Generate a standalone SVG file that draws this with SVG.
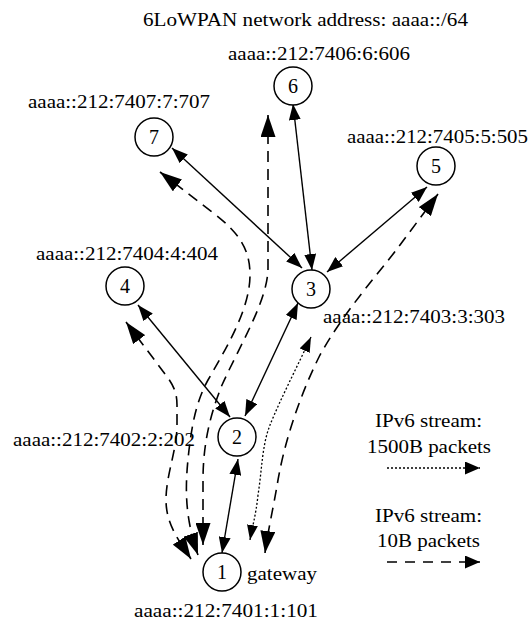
<svg xmlns="http://www.w3.org/2000/svg" width="531" height="623" viewBox="0 0 531 623">
  <style>
    text { font-family: "Liberation Serif", "Times New Roman", serif; fill: #000; }
    .lbl { font-size: 19px; text-anchor: middle; }
    .num { font-size: 20px; text-anchor: middle; }
    .node circle { fill: #fff; stroke: #000; stroke-width: 1.5; }
    .link { fill: none; stroke: #000; stroke-width: 1.4; marker-start: url(#hs); marker-end: url(#hs); }
    .s10 { fill: none; stroke: #000; stroke-width: 1.6; stroke-dasharray: 11 7; marker-start: url(#hd); marker-end: url(#hd); }
    .s1500 { fill: none; stroke: #000; stroke-width: 1.3; stroke-dasharray: 2 2; marker-start: url(#ht); marker-end: url(#ht); }
    .key10 { fill: none; stroke: #000; stroke-width: 1.6; stroke-dasharray: 10 8; marker-end: url(#hk); }
    .key1500 { fill: none; stroke: #000; stroke-width: 1.3; stroke-dasharray: 2 2; marker-end: url(#hk); }
  </style>
  <defs>
    <!-- solid radio links -->
    <marker id="hs" markerUnits="userSpaceOnUse" markerWidth="16" markerHeight="12" refX="16" refY="6" orient="auto-start-reverse">
      <path d="M0,0 L16,6 L0,12 z" fill="#000"/>
    </marker>
    <!-- 10B packet streams -->
    <marker id="hd" markerUnits="userSpaceOnUse" markerWidth="22" markerHeight="15" refX="22" refY="7.5" orient="auto-start-reverse">
      <path d="M0,0 L22,7.5 L0,15 z" fill="#000"/>
    </marker>
    <!-- 1500B packet stream -->
    <marker id="ht" markerUnits="userSpaceOnUse" markerWidth="15" markerHeight="11" refX="15" refY="5.5" orient="auto-start-reverse">
      <path d="M0,0 L15,5.5 L0,11 z" fill="#000"/>
    </marker>
    <!-- legend keys -->
    <marker id="hk" markerUnits="userSpaceOnUse" markerWidth="15" markerHeight="13" refX="15" refY="6.5" orient="auto">
      <path d="M0,0 L15,6.5 L0,13 z" fill="#000"/>
    </marker>
  </defs>

  <text class="lbl" x="305.5" y="26" textLength="325" lengthAdjust="spacingAndGlyphs">6LoWPAN network address: aaaa::/64</text>

  <g id="connectors">
    <!-- radio links -->
    <line class="link" x1="293" y1="104" x2="312" y2="270"/>
    <line class="link" x1="172" y1="148" x2="302" y2="268"/>
    <line class="link" x1="427" y1="187" x2="327" y2="272"/>
    <line class="link" x1="138" y1="305" x2="230" y2="417"/>
    <line class="link" x1="298" y1="303" x2="245" y2="416"/>
    <line class="link" x1="238" y1="459" x2="222" y2="553"/>
    <!-- 10B streams between the gateway and nodes 6, 7, 4, 5 -->
    <path class="s10" d="M268,115 L268,268 C268,300 240,345 222,385 C212,410 203,440 203,480 L203,545"/>
    <path class="s10" d="M160,172 L212,212 C240,233 250,250 250,275 C250,310 225,350 208,380 C196,402 192,425 189,450 C185,485 184,515 198,555"/>
    <path class="s10" d="M126,322 L168,378 C175,388 177,395 177,405 L177,425 C177,450 166,475 166,500 C166,525 180,542 191,559"/>
    <path class="s10" d="M438,194 L400,245 C380,272 345,310 320,355 C300,395 285,440 278,480 C273,510 268,530 265,553"/>
    <!-- 1500B stream between the gateway and node 3 -->
    <path class="s1500" d="M311,337 C298,365 280,400 270,425 C262,445 262,470 258,495 C256,515 252,528 250,540"/>
  </g>

  <g id="node1" class="node">
    <circle cx="222" cy="572" r="19"/>
    <text class="num" x="222" y="579">1</text>
    <text class="lbl" x="247" y="580" style="text-anchor:start" textLength="70" lengthAdjust="spacingAndGlyphs">gateway</text>
    <text class="lbl" x="226" y="617" textLength="184" lengthAdjust="spacingAndGlyphs">aaaa::212:7401:1:101</text>
  </g>
  <g id="node2" class="node">
    <circle cx="237" cy="437" r="19"/>
    <text class="num" x="237" y="444">2</text>
    <text class="lbl" x="104" y="446" textLength="182" lengthAdjust="spacingAndGlyphs">aaaa::212:7402:2:202</text>
  </g>
  <g id="node3" class="node">
    <circle cx="311" cy="289" r="19"/>
    <text class="num" x="311" y="296">3</text>
    <text class="lbl" x="414" y="323" textLength="182" lengthAdjust="spacingAndGlyphs">aaaa::212:7403:3:303</text>
  </g>
  <g id="node4" class="node">
    <circle cx="125" cy="286" r="19"/>
    <text class="num" x="125" y="293">4</text>
    <text class="lbl" x="127" y="260" textLength="182" lengthAdjust="spacingAndGlyphs">aaaa::212:7404:4:404</text>
  </g>
  <g id="node5" class="node">
    <circle cx="436" cy="166" r="19"/>
    <text class="num" x="436" y="173">5</text>
    <text class="lbl" x="437.5" y="143" textLength="181" lengthAdjust="spacingAndGlyphs">aaaa::212:7405:5:505</text>
  </g>
  <g id="node6" class="node">
    <circle cx="293" cy="86" r="19"/>
    <text class="num" x="293" y="93">6</text>
    <text class="lbl" x="319" y="60" textLength="182" lengthAdjust="spacingAndGlyphs">aaaa::212:7406:6:606</text>
  </g>
  <g id="node7" class="node">
    <circle cx="154" cy="137" r="19"/>
    <text class="num" x="154" y="144">7</text>
    <text class="lbl" x="119" y="108" textLength="182" lengthAdjust="spacingAndGlyphs">aaaa::212:7407:7:707</text>
  </g>

  <g id="legend">
    <text class="lbl" x="428.5" y="427" textLength="107" lengthAdjust="spacingAndGlyphs">IPv6 stream:</text>
    <text class="lbl" x="429" y="453" textLength="124" lengthAdjust="spacingAndGlyphs">1500B packets</text>
    <line class="key1500" x1="387" y1="468" x2="480" y2="468"/>
    <text class="lbl" x="428.5" y="522" textLength="107" lengthAdjust="spacingAndGlyphs">IPv6 stream:</text>
    <text class="lbl" x="428.5" y="547" textLength="103" lengthAdjust="spacingAndGlyphs">10B packets</text>
    <line class="key10" x1="387" y1="562" x2="480" y2="562"/>
  </g>
</svg>
